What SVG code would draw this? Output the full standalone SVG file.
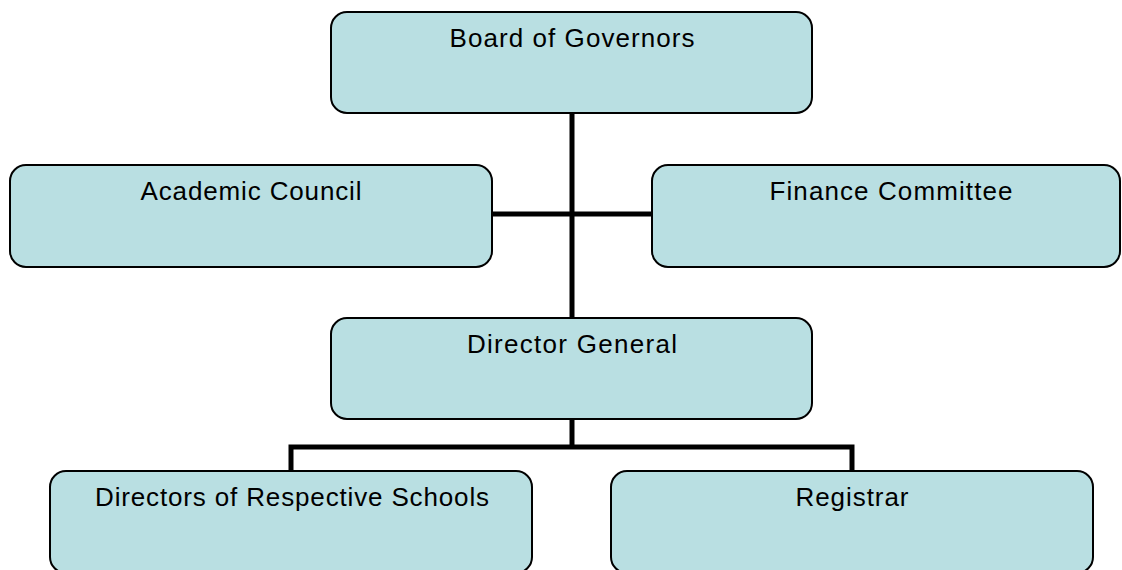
<svg xmlns="http://www.w3.org/2000/svg" width="1122" height="570" viewBox="0 0 1122 570">
<style>
.box{fill:#b9dfe2;stroke:#000;stroke-width:2}
.lbl{font-family:"Liberation Sans",Arial,sans-serif;font-size:26px;fill:#000;text-anchor:middle}
.con{stroke:#000;stroke-width:5;fill:none}
</style>
<rect width="1122" height="570" fill="#fff"/>
<g id="connectors">
<line class="con" x1="572" y1="113" x2="572" y2="318"/>
<line class="con" x1="492" y1="214" x2="652" y2="214"/>
<line class="con" x1="572" y1="419" x2="572" y2="447"/>
<polyline class="con" points="291,471 291,447 852,447 852,471"/>
</g>
<g id="board">
<rect class="box" x="331" y="12" width="481" height="101" rx="16"/>
<text class="lbl" x="572" y="47" textLength="245" lengthAdjust="spacing">Board of Governors</text>
</g>
<g id="academic">
<rect class="box" x="10" y="165" width="482" height="102" rx="16"/>
<text class="lbl" x="251" y="200" textLength="221" lengthAdjust="spacing">Academic Council</text>
</g>
<g id="finance">
<rect class="box" x="652" y="165" width="468" height="102" rx="16"/>
<text class="lbl" x="891" y="200" textLength="243" lengthAdjust="spacing">Finance Committee</text>
</g>
<g id="director">
<rect class="box" x="331" y="318" width="481" height="101" rx="16"/>
<text class="lbl" x="572" y="353" textLength="210" lengthAdjust="spacing">Director General</text>
</g>
<g id="schools">
<rect class="box" x="50" y="471" width="482" height="102" rx="16"/>
<text class="lbl" x="292" y="506" textLength="394" lengthAdjust="spacing">Directors of Respective Schools</text>
</g>
<g id="registrar">
<rect class="box" x="611" y="471" width="482" height="102" rx="16"/>
<text class="lbl" x="852" y="506" textLength="113" lengthAdjust="spacing">Registrar</text>
</g>
</svg>
